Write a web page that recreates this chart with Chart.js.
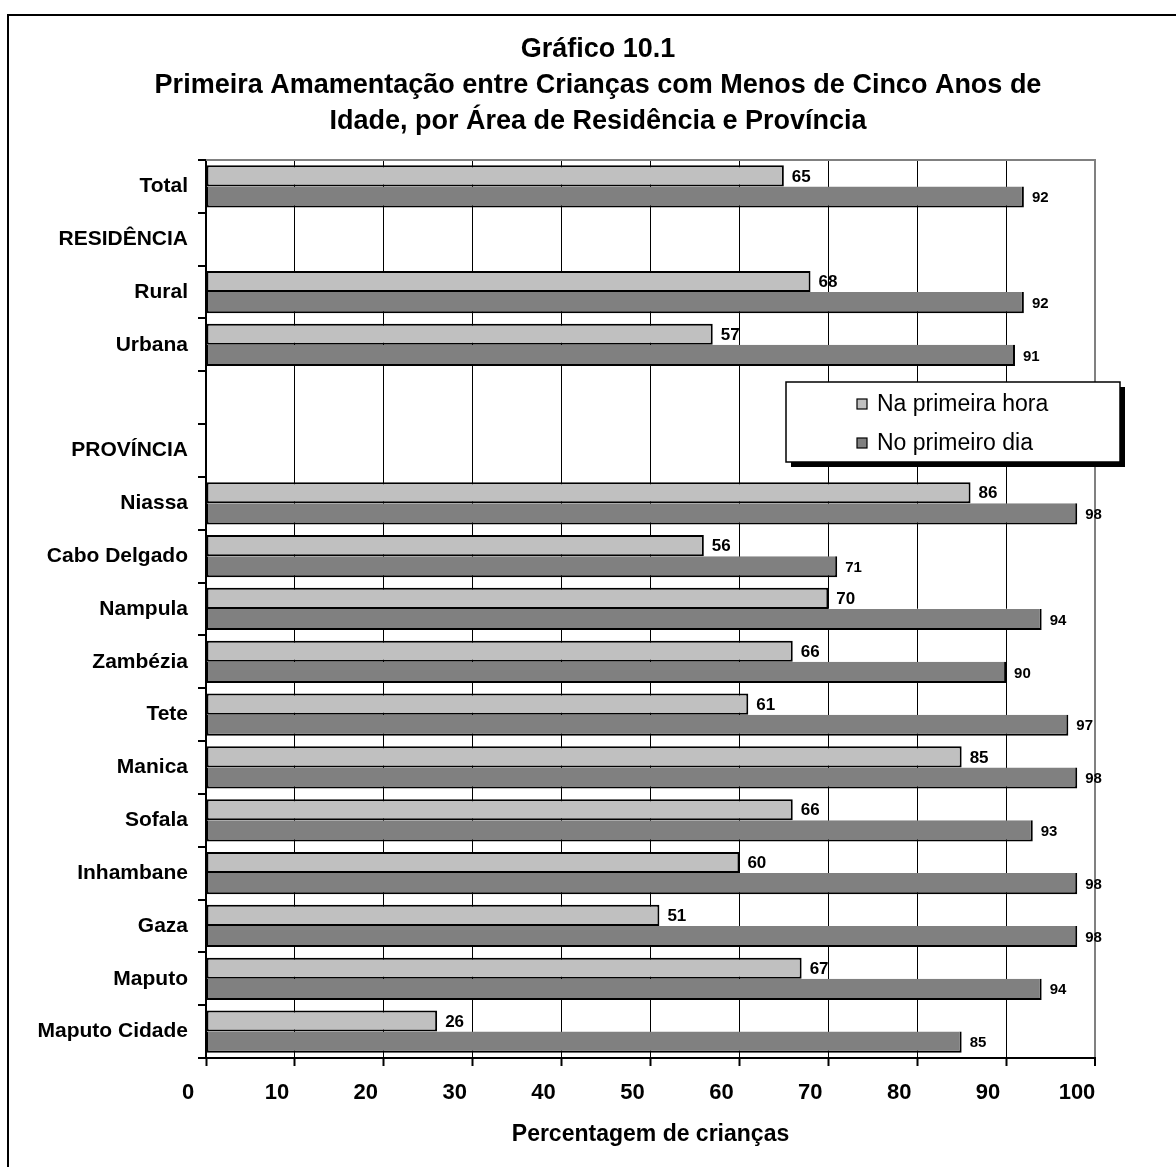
<!DOCTYPE html>
<html><head><meta charset="utf-8">
<script src="https://cdn.jsdelivr.net/npm/chart.js@4.4.1/dist/chart.umd.min.js"></script>
<style>
html,body{margin:0;padding:0;background:#fff;overflow:hidden;width:1176px;height:1167px;}
#frame{position:absolute;left:7px;top:14px;width:1200px;height:1200px;border:2px solid #000;box-sizing:border-box;}
#c{position:absolute;left:0;top:0;}
</style></head><body>
<div id="frame"></div>
<canvas id="c" width="1176" height="1167"></canvas>
<script>
const categories = ['Total','RESIDÊNCIA','Rural','Urbana','','PROVÍNCIA','Niassa','Cabo Delgado','Nampula','Zambézia','Tete','Manica','Sofala','Inhambane','Gaza','Maputo','Maputo Cidade'];
const firstHour = [65,null,68,57,null,null,86,56,70,66,61,85,66,60,51,67,26];
const firstDay  = [92,null,92,91,null,null,98,71,94,90,97,98,93,98,98,94,85];
const seriesNames = ['Na primeira hora','No primeiro dia'];
const seriesColors = ['#C0C0C0','#808080'];
const xMin = 0, xMax = 100, xStep = 10;
const titleLines = ['Gráfico 10.1','Primeira Amamentação entre Crianças com Menos de Cinco Anos de','Idade, por Área de Residência e Província'];
const axisTitle = 'Percentagem de crianças';

const FONT = '"Liberation Sans", Arial, Helvetica, sans-serif';
Chart.defaults.font.family = FONT;
Chart.defaults.color = '#000';

const valueLabels = {
  id: 'valueLabels',
  afterDatasetsDraw(chart) {
    const ctx = chart.ctx;
    chart.data.datasets.forEach((ds, di) => {
      const meta = chart.getDatasetMeta(di);
      ctx.save();
      ctx.font = 'bold ' + (di === 0 ? 17 : 15) + 'px ' + FONT;
      ctx.fillStyle = '#000';
      ctx.textAlign = 'left';
      ctx.textBaseline = 'middle';
      meta.data.forEach((bar, i) => {
        const v = ds.data[i];
        if (v === null || v === undefined) return;
        ctx.fillText(String(v), bar.x + 8, bar.y + 1);
      });
      ctx.restore();
    });
  }
};

const frameLines = {
  id: 'frameLines',
  beforeDatasetsDraw(chart) {
    const {ctx, chartArea} = chart;
    ctx.save();
    ctx.strokeStyle = '#808080';
    ctx.lineWidth = 2;
    ctx.beginPath();
    ctx.moveTo(chartArea.left, chartArea.top);
    ctx.lineTo(chartArea.right + 1, chartArea.top);
    ctx.stroke();
    ctx.restore();
  }
};

const boxLegend = {
  id: 'boxLegend',
  afterDraw(chart) {
    const ctx = chart.ctx;
    const L = 786, T = 382, W = 334, H = 80;
    ctx.save();
    ctx.fillStyle = '#000';
    ctx.fillRect(L + 5, T + 5, W, H);
    ctx.fillStyle = '#fff';
    ctx.fillRect(L, T, W, H);
    ctx.strokeStyle = '#000';
    ctx.lineWidth = 1.5;
    ctx.strokeRect(L, T, W, H);
    ctx.font = '23px ' + FONT;
    ctx.textAlign = 'left';
    ctx.textBaseline = 'middle';
    const ys = [T + 23, T + 62];
    chart.data.datasets.forEach((ds, i) => {
      const y = ys[i];
      ctx.fillStyle = ds.backgroundColor;
      ctx.fillRect(857, y - 6, 10, 10);
      ctx.strokeStyle = '#000';
      ctx.lineWidth = 1.2;
      ctx.strokeRect(857, y - 6, 10, 10);
      ctx.fillStyle = '#000';
      ctx.fillText(ds.label, 877, y);
    });
    ctx.restore();
  }
};

new Chart(document.getElementById('c'), {
  type: 'bar',
  data: {
    labels: categories,
    datasets: [
      {label: seriesNames[0], data: firstHour, yAxisID: 'y', backgroundColor: seriesColors[0], borderColor: '#000', borderWidth: 2, borderSkipped: false},
      {label: seriesNames[1], data: firstDay, yAxisID: 'y', backgroundColor: seriesColors[1], borderColor: '#000', borderWidth: 2, borderSkipped: 'top'}
    ]
  },
  options: {
    indexAxis: 'y',
    responsive: false,
    animation: false,
    devicePixelRatio: 1,
    categoryPercentage: 0.8,
    barPercentage: 1.0,
    layout: {padding: {left: 20, right: 0, top: 0, bottom: 19}},
    plugins: {
      legend: {display: false},
      tooltip: {enabled: false},
      title: {
        display: true,
        text: titleLines,
        color: '#000',
        font: {size: 27, weight: 'bold', lineHeight: 1.333},
        padding: {top: 32, bottom: 20}
      }
    },
    scales: {
      x: {
        min: xMin, max: xMax,
        ticks: {stepSize: xStep, font: {size: 22, weight: 'bold'}, color: '#000', padding: 14, labelOffset: -18},
        grid: {
          color: (c) => (c.tick && c.tick.value === xMax) ? '#808080' : '#000',
          lineWidth: (c) => (c.tick && c.tick.value === xMax) ? 2 : 1,
          drawTicks: true, tickLength: 8, tickColor: '#000', tickWidth: 2
        },
        border: {display: true, color: '#000', width: 2},
        title: {display: true, text: axisTitle, color: '#000', font: {size: 23, weight: 'bold'}, padding: {top: 0, bottom: 0}}
      },
      y: {
        position: 'left',
        afterFit: (s) => { s.width = 186; },
        ticks: {font: {size: 21, weight: 'bold'}, color: '#000', padding: 10, autoSkip: false},
        grid: {drawOnChartArea: false, drawTicks: true, tickLength: 8, color: '#000', lineWidth: 2, offset: true},
        border: {display: true, color: '#000', width: 2}
      },
      yR: {
        type: 'category',
        position: 'right',
        display: true,
        afterFit: (s) => { s.width = 81; },
        ticks: {display: false},
        grid: {display: false, drawTicks: false},
        border: {display: false}
      }
    }
  },
  plugins: [frameLines, valueLabels, boxLegend]
});
</script>
</body></html>
